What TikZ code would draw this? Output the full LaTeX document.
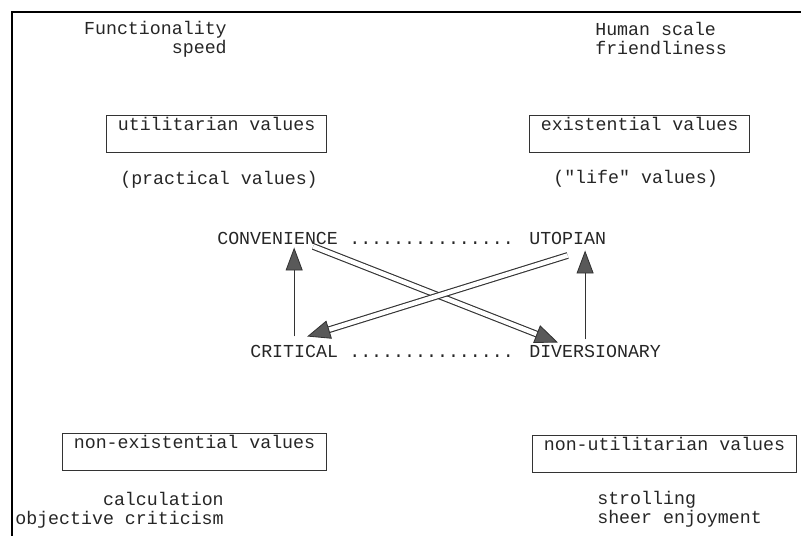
\documentclass[tikz,border=0pt]{standalone}
\usepackage{fontspec}
\newfontfamily\dotfont{Liberation Mono}
\usetikzlibrary{arrows.meta,calc}

\begin{document}
\begin{tikzpicture}[
  x=0.025cm, y=-0.025cm,
  txt/.style={inner sep=0pt, font=\dotfont\fontsize{13}{15}\selectfont, text=black!85},
  valbox/.style={txt, draw=black!80, line width=0.9pt, inner xsep=0.28cm, inner ysep=0pt, text height=0.375cm, text depth=0.55cm, anchor=north west},
  uparr/.style={black!80, line width=0.6pt, -{Triangle[length=0.575cm, width=0.425cm, fill=black!65]}},
  dbl/.style={black!80, line width=0.8pt, double=white, double distance=3.2pt},
  head/.style={black!80, line width=0.6pt, -{Triangle[length=0.575cm, width=0.47cm, fill=black!65]}}
]
\useasboundingbox (0,0) rectangle (801,536);

% Frame
\draw[line width=1.6pt] (12,536) -- (12,12) -- (801,12);

% Top corners
\node[txt, anchor=base east] (func) at (227,35) {Functionality};
\node[txt, anchor=base east] (speed) at (227,54) {speed};
\node[txt, anchor=base west] (human) at (595,36) {Human scale};
\node[txt, anchor=base west] (friend) at (595,55) {friendliness};

% Value boxes (top)
\node[valbox] (util) at (106,115) {utilitarian values};
\node[valbox] (exist) at (529,115) {existential values};
\node[txt, anchor=base west] (prac) at (120,185) {(practical values)};
\node[txt, anchor=base west] (life) at (553,184) {("life" values)};

% Centre square
\node[txt, anchor=base west] (conv) at (217,245) {CONVENIENCE};
\node[txt, anchor=base west] (dtop) at (349,245) {...............};
\node[txt, anchor=base west] (utop) at (529,245) {UTOPIAN};
\node[txt, anchor=base west] (crit) at (250,358) {CRITICAL};
\node[txt, anchor=base west] (dbot) at (349,358) {...............};
\node[txt, anchor=base west] (div) at (529,358) {DIVERSIONARY};

% Value boxes (bottom)
\node[valbox] (nonex) at (62,433) {non-existential values};
\node[valbox] (nonut) at (532,435) {non-utilitarian values};
\node[txt, anchor=base east] (calcul) at (224,505) {calculation};
\node[txt, anchor=base east] (objc) at (224,524) {objective criticism};
\node[txt, anchor=base west] (stroll) at (597,504) {strolling};
\node[txt, anchor=base west] (sheer) at (597,523) {sheer enjoyment};

% Vertical arrows
\draw[uparr] ($(crit.north)+(0,-9)$) -- ($(crit.north |- conv.south)+(0,2)$);
\draw[uparr] ($(div.north)+(-10,-6)$) -- ($(div.north |- utop.south)+(-10,5)$);

% Crossing double arrows
\coordinate (a1) at ($(conv.south east)+(-25,1)$);
\coordinate (t1) at ($(div.north west)+(29,-3)$);
\coordinate (b1) at ($(t1)!0.52cm!(a1)$);
\draw[dbl] (a1) -- (b1);
\draw[head] (b1) -- (t1);

\coordinate (a2) at ($(utop.south)+(0,10)$);
\coordinate (t2) at ($(crit.north)+(13,-9)$);
\coordinate (b2) at ($(t2)!0.52cm!(a2)$);
\draw[dbl] (a2) -- (b2);
\draw[head] (b2) -- (t2);

\end{tikzpicture}
\end{document}
